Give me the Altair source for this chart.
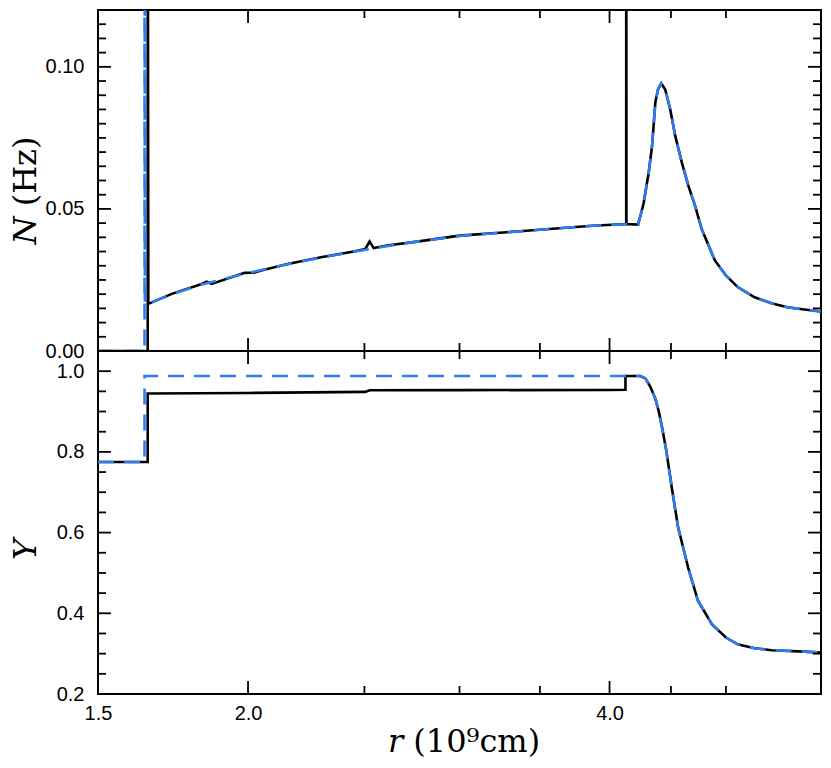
import altair as alt
import pandas as pd

# ---------------- data ----------------
# upper panel: Brunt-Vaisala frequency N (Hz) versus r (1e9 cm)
r_N_black = [1.50, 1.650, 1.650, 1.652, 1.728, 1.830, 1.847, 1.865, 1.987, 2.026, 2.051,
             2.158, 2.300, 2.450, 2.504, 2.525, 2.545, 2.610, 2.765, 3.000, 3.409, 3.870,
             4.130, 4.130, 4.132]
N_black = [0.0, 0.0, 0.20, 0.0166, 0.0201, 0.0236, 0.0244, 0.0236, 0.0275, 0.0276, 0.0283,
           0.0306, 0.0330, 0.0350, 0.0359, 0.0385, 0.0362, 0.0371, 0.0385, 0.0406, 0.0423, 0.0441,
           0.0447, 0.20, 0.0447]
r_N_blue = [1.50, 1.640, 1.640, 1.641, 1.728, 1.830, 1.987, 2.158, 2.300, 2.450, 2.610,
            2.765, 3.000, 3.409, 3.870, 4.130]
N_blue = [0.0, 0.0, 0.20, 0.0163, 0.0199, 0.0234, 0.0272, 0.0305, 0.0329, 0.0349, 0.0369,
          0.0385, 0.0405, 0.0423, 0.0441, 0.0446]
# common outer part of both N curves
r_N_tail = [4.225, 4.269, 4.312, 4.340, 4.367, 4.389, 4.417, 4.451, 4.494, 4.537, 4.595,
            4.653, 4.713, 4.773, 4.895, 5.000, 5.114, 5.283, 5.457, 5.625, 5.811, 6.000]
N_tail = [0.0445, 0.0517, 0.0628, 0.0722, 0.0874, 0.0920, 0.0942, 0.0920, 0.0850, 0.0757, 0.0663,
          0.0581, 0.0511, 0.0429, 0.0319, 0.0266, 0.0225, 0.0189, 0.0168, 0.0154, 0.0146, 0.0139]

# lower panel: helium mass fraction Y versus r
r_Y_black = [1.50, 1.650, 1.650, 2.000, 2.504, 2.525, 3.000, 4.000, 4.124, 4.124]
Y_black = [0.775, 0.775, 0.9446, 0.946, 0.9486, 0.9528, 0.953, 0.9535, 0.954, 0.988]
r_Y_blue = [1.50, 1.640, 1.640]
Y_blue = [0.775, 0.775, 0.988]
r_Y_tail = [4.244, 4.285, 4.326, 4.367, 4.394, 4.423, 4.457, 4.494, 4.511, 4.562, 4.650,
            4.739, 4.867, 5.000, 5.114, 5.283, 5.457, 5.811, 6.000]
Y_tail = [0.988, 0.982, 0.961, 0.932, 0.903, 0.862, 0.808, 0.737, 0.704, 0.613, 0.514,
          0.431, 0.373, 0.340, 0.323, 0.3135, 0.3086, 0.305, 0.3026]

# axis ticks / labels
x_labels = [1.5, 2.0, 4.0]
x_major = [2.0, 4.0]
x_minor = [2.5, 3.0, 3.5, 4.5, 5.0]
N_labels = [0.0, 0.05, 0.10]
N_major = [0.05, 0.10]
N_minor = [0.005, 0.010, 0.015, 0.020, 0.025, 0.030, 0.035, 0.040, 0.045,
           0.055, 0.060, 0.065, 0.070, 0.075, 0.080, 0.085, 0.090, 0.095,
           0.105, 0.110, 0.115]
Y_labels = [0.2, 0.4, 0.6, 0.8, 1.0]
Y_major = [0.4, 0.6, 0.8, 1.0]
Y_minor = [0.25, 0.30, 0.35, 0.45, 0.50, 0.55, 0.65, 0.70, 0.75, 0.85, 0.90, 0.95]

# ---------------- layout constants ----------------
W = 723
H1 = 341
H2 = 343
MAJ = 13
MIN = 8
BLUE = "#2e7cf2"
LW = 2.6

xscale = alt.Scale(type="log", domain=[1.5, 6.0], nice=False)
Nscale = alt.Scale(domain=[0.0, 0.12], nice=False, zero=False)
Yscale = alt.Scale(domain=[0.2, 1.05], nice=False, zero=False)

N_axis = alt.Axis(values=N_labels, format=".2f", title="\U0001D441 (Hz)",
                  labelPadding=14, titleX=-73, titleY=180, titleAngle=270,
                  titleAlign="center", titleBaseline="middle")
Y_axis = alt.Axis(values=Y_labels, format=".1f", title="\U0001D44C",
                  labelPadding=14, titleX=-73, titleY=198, titleAngle=270,
                  titleAlign="center", titleBaseline="middle")
X_axis = alt.Axis(values=x_labels, format=".1f", title="\U0001D45F  (10\u2079cm)",
                  labelPadding=9, labelFlush=False, labelOverlap=False,
                  titleX=W / 2 + 4, titleY=57, titleAlign="center", titleBaseline="alphabetic")


def frame(rs, vs, name):
    return pd.DataFrame({"r": rs, name: vs, "i": list(range(len(rs)))})


def xenc(xaxis):
    if xaxis is None:
        return alt.X("r:Q", scale=xscale, axis=None)
    return alt.X("r:Q", scale=xscale, axis=xaxis)


def yenc(field, yscale, yaxis):
    return alt.Y(f"{field}:Q", scale=yscale, axis=yaxis)


def panel(df_black, df_blue, field, yscale, yaxis, xaxis, height, major, minor):
    layers = []
    # curves
    layers.append(alt.Chart(df_black).mark_line(color="black", strokeWidth=LW, clip=True).encode(
        x=xenc(xaxis), y=yenc(field, yscale, yaxis), order=alt.Order("i:Q")))
    layers.append(alt.Chart(df_blue).mark_line(color=BLUE, strokeWidth=LW, strokeDash=[16, 10],
                                               clip=True).encode(
        x=xenc(xaxis), y=yenc(field, yscale, yaxis), order=alt.Order("i:Q")))
    # inward ticks on all four sides
    for vals, ln in ((x_major, MAJ), (x_minor, MIN)):
        base = alt.Chart(pd.DataFrame({"r": vals})).mark_rule(color="black", strokeWidth=1.8)
        layers.append(base.encode(x=xenc(xaxis), y=alt.value(0), y2=alt.value(ln)))
        layers.append(base.encode(x=xenc(xaxis), y=alt.value(height), y2=alt.value(height - ln)))
    for vals, ln in ((major, MAJ), (minor, MIN)):
        base = alt.Chart(pd.DataFrame({field: vals})).mark_rule(color="black", strokeWidth=1.8)
        layers.append(base.encode(y=yenc(field, yscale, yaxis), x=alt.value(0), x2=alt.value(ln)))
        layers.append(base.encode(y=yenc(field, yscale, yaxis), x=alt.value(W), x2=alt.value(W - ln)))
    return alt.layer(*layers).properties(width=W, height=height)


df_N_black = frame(r_N_black + r_N_tail, N_black + N_tail, "N")
df_N_blue = frame(r_N_blue + r_N_tail, N_blue + N_tail, "N")
df_Y_black = frame(r_Y_black + r_Y_tail, Y_black + Y_tail, "Y")
df_Y_blue = frame(r_Y_blue + r_Y_tail, Y_blue + Y_tail, "Y")

top = panel(df_N_black, df_N_blue, "N", Nscale, N_axis, None, H1, N_major, N_minor)
bottom = panel(df_Y_black, df_Y_blue, "Y", Yscale, Y_axis, X_axis, H2, Y_major, Y_minor)

chart = alt.vconcat(top, bottom, spacing=0, bounds="flush").properties(
    padding={"left": 0, "top": 0, "right": 0, "bottom": 0},
    background="white",
).configure_view(
    stroke="black", strokeWidth=2
).configure_axis(
    labelFont="Liberation Sans", labelFontSize=20, labelColor="black",
    titleFont="DejaVu Serif", titleFontSize=32, titleFontWeight="normal", titleColor="black",
    grid=False, ticks=False, domain=False, tickSize=0,
)

chart.save("out.html", embed_options={"renderer": "svg", "actions": False})
